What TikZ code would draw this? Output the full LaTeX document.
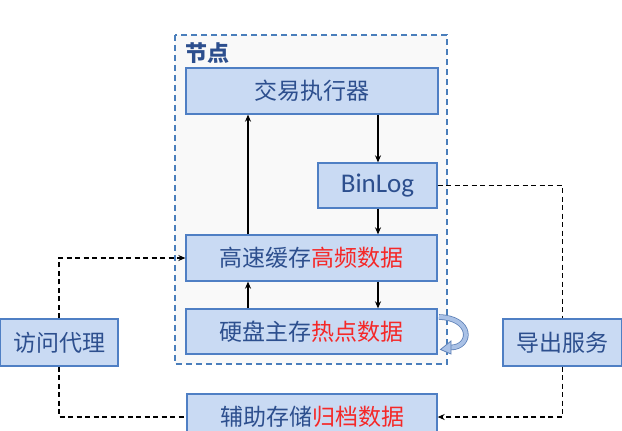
\documentclass[tikz,border=0pt]{standalone}
\usepackage{fontspec}
\setmainfont{Noto Sans CJK SC}
\newfontfamily\latinf{Carlito}
\usetikzlibrary{arrows.meta}
\definecolor{boxfill}{HTML}{C9DAF3}
\definecolor{boxline}{HTML}{4F7FC4}
\definecolor{txtblue}{HTML}{2D4F8E}
\definecolor{txtred}{HTML}{F52828}
\definecolor{dashblue}{HTML}{4A7EBB}
\definecolor{curvefill}{HTML}{A9C1E6}
\definecolor{curveline}{HTML}{5F82B8}
\tikzset{
  box/.style={draw=boxline, fill=boxfill, line width=1.3pt, inner sep=0pt, text=txtblue, font=\fontsize{23}{26}\selectfont},
  solidarr/.style={draw=black, line width=1.4pt, -{Stealth[length=7pt,width=6pt]}},
  dasharr/.style={draw=black, line width=1.4pt, dash pattern=on 5pt off 3.5pt, -{Stealth[length=7pt,width=6pt]}},
  dashline/.style={draw=black, line width=1.4pt, dash pattern=on 5pt off 3.5pt},
}
\begin{document}
\begin{tikzpicture}[x=1pt,y=-1pt]
\useasboundingbox (0,0) rectangle (622,431);
% node frame
\draw[dashblue, fill=gray!5, line width=1.5pt, dash pattern=on 6pt off 4pt] (175,35) rectangle (447,364);
\node[anchor=west, text=txtblue, font=\fontsize{22}{25}\selectfont\bfseries] (title) at (182,53) {节点};
% boxes
\node[box, minimum width=252pt, minimum height=46pt] (exec) at (312,91) {交易执行器};
\node[box, minimum width=119pt, minimum height=45pt] (binlog) at (377.5,185.5) {\fontsize{27}{30}\selectfont\latinf BinLog};
\node[box, minimum width=251pt, minimum height=46pt] (cache) at (311.5,258) {高速缓存\textcolor{txtred}{高频数据}};
\node[box, minimum width=251pt, minimum height=45pt] (disk) at (311.5,331.5) {硬盘主存\textcolor{txtred}{热点数据}};
\node[box, minimum width=118pt, minimum height=47pt] (proxy) at (59,342.5) {访问代理};
\node[box, minimum width=119pt, minimum height=47pt] (export) at (562.5,342.5) {导出服务};
\node[box, minimum width=250pt, minimum height=46pt] (aux) at (312,417) {辅助存储\textcolor{txtred}{归档数据}};
% solid arrows
\draw[solidarr] (cache.north -| 248,0) -- (exec.south -| 248,0);
\draw[solidarr] (exec.south -| 378,0) -- (binlog.north -| 378,0);
\draw[solidarr] (binlog.south -| 378,0) -- (cache.north -| 378,0);
\draw[solidarr] (disk.north -| 248,0) -- (cache.south -| 248,0);
\draw[solidarr] (cache.south -| 378,0) -- (disk.north -| 378,0);
% dashed connectors
\draw[dasharr] (proxy.north) |- (cache.west);
\draw[dashline] (proxy.south) |- (aux.west);
\draw[dashline] (binlog.east) -| (export.north);
\draw[dasharr] (export.south) |- (aux.east);
% curved self arrow
\draw[draw=curveline, line width=0.8pt, double=curvefill, double distance=4pt]
  (439,317) .. controls (473,318) and (472,347) .. (451,347.5);
\fill[curvefill, draw=curveline, line width=0.8pt] (451,341) -- (440.5,349.5) -- (451,354) -- cycle;
\end{tikzpicture}
\end{document}
